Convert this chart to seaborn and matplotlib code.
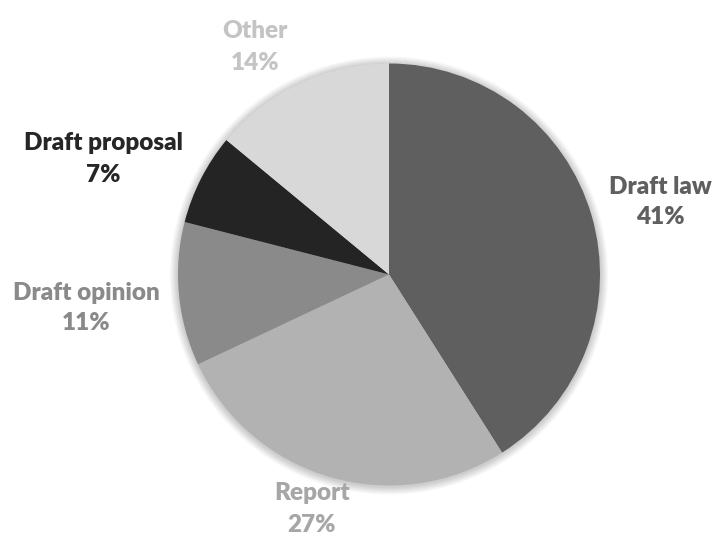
import matplotlib
matplotlib.use("Agg")
import matplotlib.pyplot as plt
from matplotlib.patches import Circle
import seaborn as sns

categories = ["Draft law", "Report", "Draft opinion", "Draft proposal", "Other"]
shares = [41, 27, 11, 7, 14]
slice_colors = ["#5f5f5f", "#b2b2b2", "#8a8a8a", "#242424", "#d8d8d8"]
label_colors = ["#5f5f5f", "#a6a6a6", "#8a8a8a", "#262626", "#c4c4c4"]
# label anchor points (pixel coords, top-left origin)
label_pos = [(660, 202), (312, 509), (86, 308), (103, 159), (255, 47)]

sns.set_theme(style="white")
plt.rcParams["font.family"] = ["Lato", "DejaVu Sans"]

W, H = 713, 538
fig = plt.figure(figsize=(W / 100, H / 100), dpi=100)
ax = fig.add_axes([0, 0, 1, 1])

cx, cy, r = 389, H - 274.5, 211

# soft shadow around the pie
for i in range(10):
    ax.add_patch(Circle((cx, cy - 1), r + 1 + i * 0.8, color="black",
                        alpha=0.018, lw=0, zorder=0))

ax.pie(shares, colors=slice_colors, startangle=90, counterclock=False,
       center=(cx, cy), radius=r, frame=True,
       wedgeprops=dict(linewidth=0))
ax.set_xlim(0, W)
ax.set_ylim(0, H)
ax.axis("off")

for name, val, col, (px, py) in zip(categories, shares, label_colors, label_pos):
    ax.text(px, H - py, f"{name}\n{val}%", ha="center", va="center",
            color=col, fontsize=17.5, fontweight="heavy", linespacing=1.5)

fig.savefig("out.png", dpi=100)
